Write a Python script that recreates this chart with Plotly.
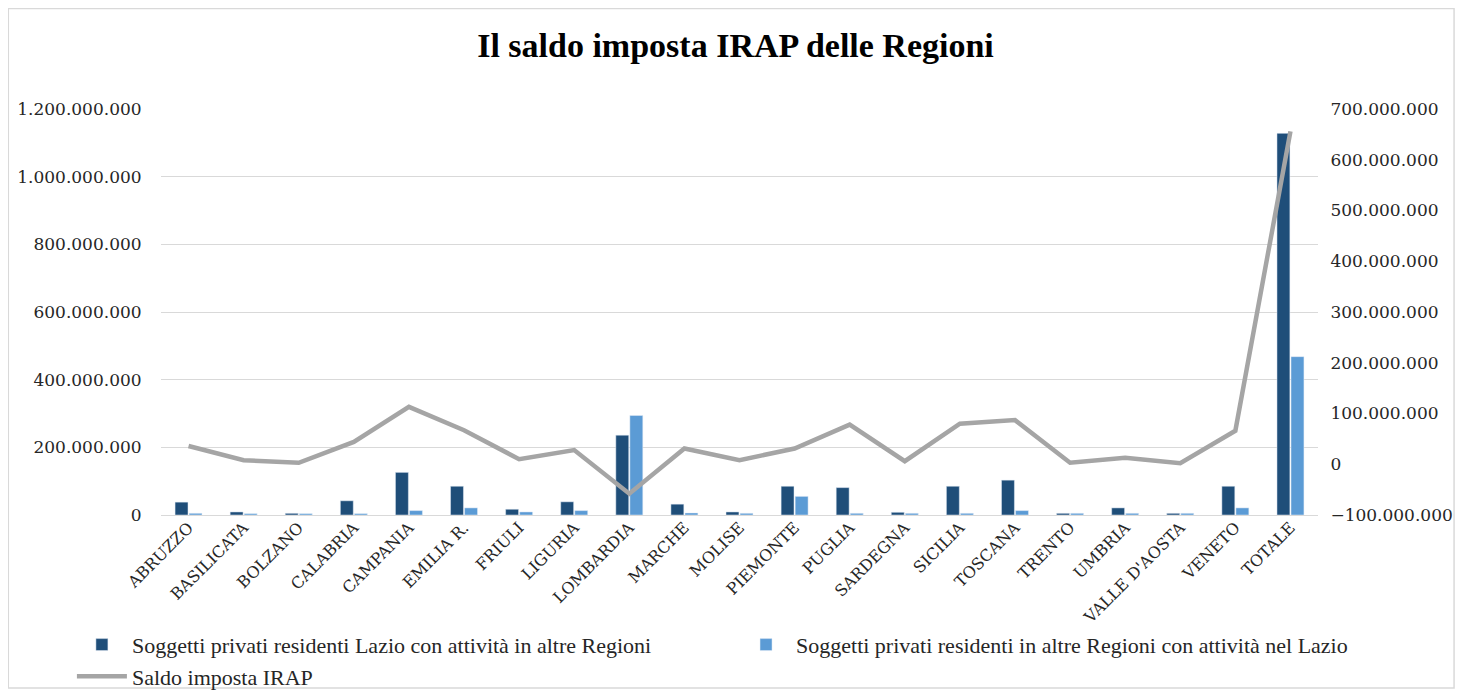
import plotly.graph_objects as go

regioni = ['ABRUZZO', 'BASILICATA', 'BOLZANO', 'CALABRIA', 'CAMPANIA', 'EMILIA R.', 'FRIULI',
           'LIGURIA', 'LOMBARDIA', 'MARCHE', 'MOLISE', 'PIEMONTE', 'PUGLIA', 'SARDEGNA',
           'SICILIA', 'TOSCANA', 'TRENTO', 'UMBRIA', "VALLE D'AOSTA", 'VENETO', 'TOTALE']

# valori in milioni di euro
lazio_fuori = [38, 9, 5, 42, 126, 85, 17, 39, 236, 32, 9, 85, 81, 8, 85, 103, 5, 21, 5, 85, 1128]
fuori_lazio = [5, 4, 4, 4, 13, 21, 9, 13, 294, 6, 5, 55, 5, 5, 5, 13, 5, 5, 5, 21, 468]
saldo = [36, 8, 3, 44, 113, 67, 10, 28, -58, 31, 8, 31, 78, 6, 80, 87, 3, 13, 2, 66, 656]

serif = '"Liberation Serif", serif'
tick_font = '"DejaVu Serif", serif'

fig = go.Figure()
fig.add_trace(go.Bar(x=regioni, y=[v * 1e6 for v in lazio_fuori],
                     name='Soggetti privati residenti Lazio con attività in altre Regioni',
                     marker_color='#1F4E79', legend='legend'))
fig.add_trace(go.Bar(x=regioni, y=[v * 1e6 for v in fuori_lazio],
                     name='Soggetti privati residenti in altre Regioni con attività nel Lazio',
                     marker_color='#5B9BD5', legend='legend2'))
fig.add_trace(go.Scatter(x=regioni, y=[v * 1e6 for v in saldo], yaxis='y2', mode='lines',
                         name='Saldo imposta IRAP', line=dict(color='#A5A5A5', width=4.5),
                         legend='legend'))

legend_style = dict(orientation='v', yanchor='top', y=-0.268, xanchor='left',
                    bgcolor='rgba(0,0,0,0)', font=dict(family=serif, size=22, color='#262626'),
                    tracegroupgap=0, itemwidth=50)

# the page puts the figure 8px in from the top-left corner
fig.update_layout(
    width=1455, height=683,
    margin=dict(l=153, r=145, t=101, b=176, autoexpand=False),
    paper_bgcolor='white', plot_bgcolor='white',
    separators=',.',
    font=dict(family=serif, size=18, color='#262626'),
    title=dict(text='<b>Il saldo imposta IRAP delle Regioni</b>', x=0.5, xanchor='center',
               y=0.945, yanchor='middle', font=dict(family=serif, size=34, color='black')),
    barmode='group', bargap=0.49, bargroupgap=0.08,
    xaxis=dict(tickangle=-45, tickfont=dict(family=tick_font, size=16), showline=True,
               linecolor='#D9D9D9', ticks='', automargin=False, ticklabelstandoff=-4),
    yaxis=dict(range=[0, 1.2e9], dtick=2e8, tickformat=',d', showgrid=True, gridcolor='#D9D9D9',
               zeroline=False, ticks='outside', ticklen=15, tickcolor='white', automargin=False,
               tickfont=dict(family=tick_font, size=17)),
    yaxis2=dict(range=[-1e8, 7e8], dtick=1e8, tickformat=',d', overlaying='y', side='right',
                showgrid=False, zeroline=False, ticks='outside', ticklen=8, tickcolor='white',
                automargin=False, tickfont=dict(family=tick_font, size=17)),
    legend=dict(x=-0.077, **legend_style),
    legend2=dict(x=0.497, **legend_style),
    shapes=[dict(type='rect', xref='paper', yref='paper', x0=-0.132, x1=1.1176, y0=-0.426, y1=1.2475,
                 line=dict(color='#D9D9D9', width=1.5), layer='below')],
)

fig.write_html('out.html')
